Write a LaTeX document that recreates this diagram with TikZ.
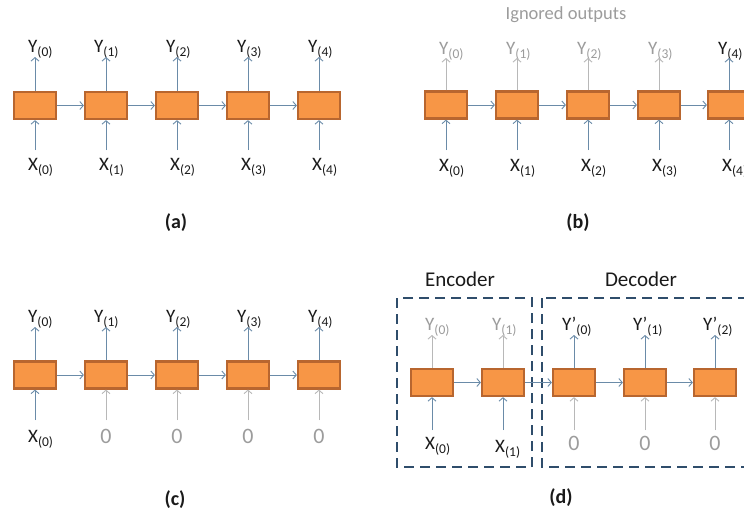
\documentclass[tikz,border=0pt]{standalone}
\usepackage{fontspec}
\setmainfont{Carlito}
\usetikzlibrary{arrows.meta}
\definecolor{boxfill}{HTML}{F79646}
\definecolor{boxline}{HTML}{B8662F}
\definecolor{arrblue}{HTML}{6A8BA8}
\definecolor{arrgray}{HTML}{B8B8B8}
\definecolor{txtgray}{HTML}{9C9C9C}
\definecolor{txtblack}{HTML}{1A1A1A}
\definecolor{dashblue}{HTML}{2F4D6B}
\newcommand{\ysb}[1]{\raisebox{-4pt}{\fontsize{13.5}{14}\selectfont(#1)}}
\newcommand{\xsb}[1]{\raisebox{-4pt}{\fontsize{13.5}{14}\selectfont(#1)}}
\tikzset{
  cell/.style={draw=boxline, fill=boxfill, line width=2.2pt, minimum width=42pt, minimum height=27pt, inner sep=0pt},
  con/.style={draw=arrblue, line width=0.9pt, -{Straight Barb[length=3.5pt,width=8pt]}},
  gcon/.style={con, draw=arrgray},
  ylab/.style={anchor=base west, inner sep=0pt, font=\fontsize{19}{19}\selectfont, text=txtblack},
  gylab/.style={ylab, text=txtgray},
  yplab/.style={ylab},
  xlab/.style={anchor=base west, inner sep=0pt, font=\fontsize{19}{19}\selectfont, text=txtblack},
  zlab/.style={anchor=base, inner sep=0pt, font=\fontsize{22}{22}\selectfont, text=txtgray},
  caplab/.style={font=\bfseries\fontsize{20}{20}\selectfont, inner sep=0pt, text=txtblack},
  ttl/.style={font=\fontsize{21}{21}\selectfont, inner sep=0pt, text=txtblack},
  grouprect/.style={draw=dashblue, line width=2.6pt, dash pattern=on 10pt off 6pt},
}
\begin{document}
\begin{tikzpicture}[x=1pt,y=-1pt]
\useasboundingbox (0,0) rectangle (744,514);
\clip (0,0) rectangle (744,514);
\fill[white] (0,0) rectangle (744,514);

% ---------- (a) ----------
\foreach \i/\x/\o in {0/35/7,1/106/12,2/177/11,3/248/11,4/319/11} {
  \node[cell] (a\i) at (\x,105.5) {};
  \coordinate (ay\i) at (\x,57);
  \coordinate (ax\i) at (\x,150);
  \node[ylab] (aY\i) at (\x-\o,52) {Y\ysb{\i}};
  \node[xlab] (aX\i) at (\x-7,170) {X\xsb{\i}};
  \draw[con] (a\i.north) -- (ay\i);
  \draw[con] (ax\i) -- (a\i.south);
}
\foreach \i/\j in {0/1,1/2,2/3,3/4} \draw[con] (a\i) -- (a\j);
\node[caplab] (capa) at (176,223) {(a)};

% ---------- (b) ----------
\node[font=\fontsize{18.5}{18.5}\selectfont, text=txtgray, inner sep=0pt] (ign) at (566,15) {Ignored outputs};
\foreach \i/\x in {0/446,1/517,2/588,3/659,4/729} {
  \node[cell] (b\i) at (\x,105) {};
  \coordinate (by\i) at (\x,58);
  \coordinate (bx\i) at (\x,150);
  \node[xlab] (bX\i) at (\x-7,171) {X\xsb{\i}};
  \draw[con] (bx\i) -- (b\i.south);
}
\foreach \i/\x/\o in {0/446/7,1/517/11,2/588/11,3/659/11} {
  \node[gylab] (bY\i) at (\x-\o,54) {Y\ysb{\i}};
  \draw[gcon] (b\i.north) -- (by\i);
}
\node[ylab] (bY4) at (729-11,54) {Y\ysb{4}};
\draw[con] (b4.north) -- (by4);
\foreach \i/\j in {0/1,1/2,2/3,3/4} \draw[con] (b\i) -- (b\j);
\node[caplab] (capb) at (578,223) {(b)};

% ---------- (c) ----------
\foreach \i/\x/\o in {0/35/7,1/106/12,2/177/11,3/248/11,4/319/11} {
  \node[cell] (c\i) at (\x,375) {};
  \coordinate (cy\i) at (\x,327);
  \coordinate (cx\i) at (\x,420);
  \node[ylab] (cY\i) at (\x-\o,322) {Y\ysb{\i}};
  \draw[con] (c\i.north) -- (cy\i);
}
\node[xlab] (cX0) at (35-7,442) {X\xsb{0}};
\draw[con] (cx0) -- (c0.south);
\foreach \i/\x in {1/106,2/177,3/248,4/319} {
  \node[zlab] (cZ\i) at (\x,443) {0};
  \draw[gcon] (cx\i) -- (c\i.south);
}
\foreach \i/\j in {0/1,1/2,2/3,3/4} \draw[con] (c\i) -- (c\j);
\node[caplab] (capc) at (175,500) {(c)};

% ---------- (d) ----------
\draw[grouprect] (397,298) rectangle (532,467);
\draw[grouprect] (542,298) rectangle (780,467);
\node[ttl] (encl) at (460,279) {Encoder};
\node[ttl] (decl) at (641,279) {Decoder};
\foreach \i/\x in {0/432,1/503,2/574,3/645,4/715} {
  \node[cell] (d\i) at (\x,382.5) {};
  \coordinate (dx\i) at (\x,430);
}
\foreach \i/\x/\o in {0/432/7,1/503/11} {
  \coordinate (dy\i) at (\x,335);
  \node[gylab] (dY\i) at (\x-\o,330) {Y\ysb{\i}};
  \draw[gcon] (d\i.north) -- (dy\i);
  \draw[con] (dx\i) -- (d\i.south);
}
\node[xlab] (dX0) at (432-7,449) {X\xsb{0}};
\node[xlab] (dX1) at (503-8,452) {X\xsb{1}};
\foreach \k/\i/\x in {0/2/574,1/3/645,2/4/715} {
  \coordinate (dy\i) at (\x,335);
  \node[yplab] (dY\i) at (\x-12,330) {Y’\ysb{\k}};
  \draw[con] (d\i.north) -- (dy\i);
  \node[zlab] (dZ\i) at (\x,450) {0};
  \draw[gcon] (dx\i) -- (d\i.south);
}
\foreach \i/\j in {0/1,1/2,2/3,3/4} \draw[con] (d\i) -- (d\j);
\node[caplab] (capd) at (561,498) {(d)};
\end{tikzpicture}
\end{document}
